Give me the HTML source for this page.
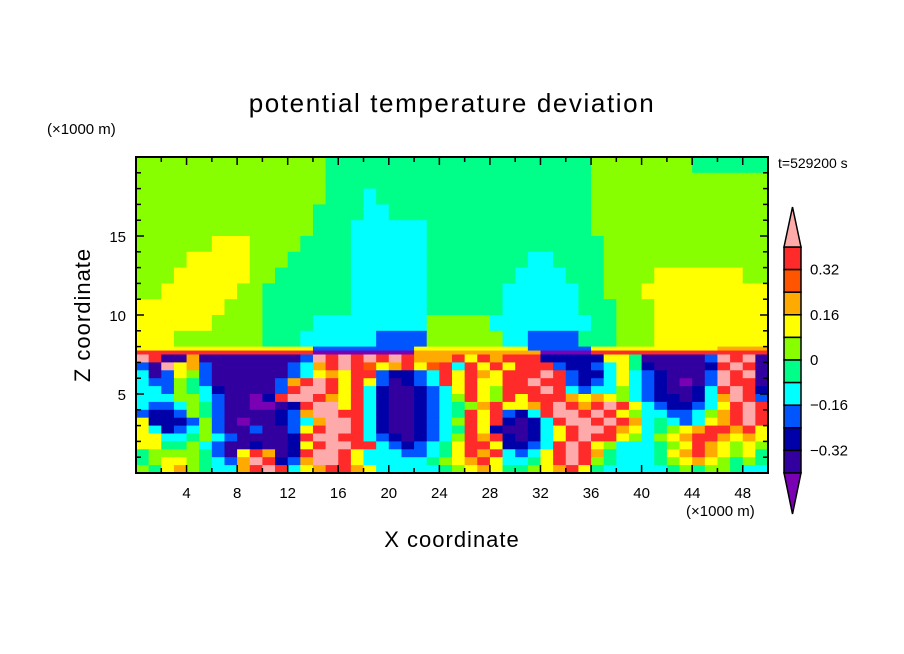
<!DOCTYPE html>
<html><head><meta charset="utf-8"><style>
body{margin:0;background:#fff;width:904px;height:654px;overflow:hidden}
svg{display:block}
text{font-family:"Liberation Sans",sans-serif;fill:#000}
</style></head><body>
<svg id="c" width="904" height="654" xmlns="http://www.w3.org/2000/svg">
<g id="field"></g>
<g id="axes"></g>
<g id="cbar"></g>
<text x="452" y="112" text-anchor="middle" font-size="26" letter-spacing="1.6">potential temperature deviation</text>
<text x="47" y="134" font-size="15">(×1000 m)</text>
<text x="686" y="516" font-size="15">(×1000 m)</text>
<text x="778" y="168" font-size="14">t=529200 s</text>
<text x="452" y="547" text-anchor="middle" font-size="22" letter-spacing="1">X coordinate</text>
<text transform="translate(90,315) rotate(-90)" text-anchor="middle" font-size="22" letter-spacing="1">Z coordinate</text>
</svg>
<script>
const colors = {P:"#7a00b4",I:"#3300a0",N:"#0000a8",B:"#0055ff",C:"#00ffff",G:"#00ff88",L:"#88ff00",Y:"#ffff00",O:"#ffaa00",R:"#ff5500",D:"#ff2a2a",K:"#ffaaaa"};
const levelKeys = ["P","I","N","B","C","G","L","Y","O","R","D","K"];
const levelLabels = ["0.32","0.16","0","−0.16","−0.32"];
const levelLabelValues = [0.32,0.16,0,-0.16,-0.32];
const xTicks = [4,8,12,16,20,24,28,32,36,40,44,48];
const yTicks = [5,10,15];
const zTopEdges = [20,19,18,17,16,15,14,13,12,11,10,9,8,7.75,7.5,7,6.5,6,5.5,5,4.5,4,3.5,3,2.5,2,1.5,1,0.5];
const zBotEdges = [19,18,17,16,15,14,13,12,11,10,9,8,7.75,7.5,7,6.5,6,5.5,5,4.5,4,3.5,3,2.5,2,1.5,1,0.5,0];
const rows = [
"LLLLLLLLLLLLLLLGGGGGGGGGGGGGGGGGGGGGLLLLLLLLGGGGGG",
"LLLLLLLLLLLLLLLGGGGGGGGGGGGGGGGGGGGGLLLLLLLLLLLLLL",
"LLLLLLLLLLLLLLLGGGCGGGGGGGGGGGGGGGGGLLLLLLLLLLLLLL",
"LLLLLLLLLLLLLLGGGGCCGGGGGGGGGGGGGGGGLLLLLLLLLLLLLL",
"LLLLLLLLLLLLLLGGGCCCCCCGGGGGGGGGGGGGLLLLLLLLLLLLLL",
"LLLLLLYYYLLLLGGGGCCCCCCGGGGGGGGGGGGGGLLLLLLLLLLLLL",
"LLLLYYYYYLLLGGGGGCCCCCCGGGGGGGGCCGGGGLLLLLLLLLLLLL",
"LLLYYYYYYLLGGGGGGCCCCCCGGGGGGGCCCCGGGLLLLYYYYYYYLL",
"LLYYYYYYLLGGGGGGGCCCCCCGGGGGGCCCCCCGGLLLYYYYYYYYYY",
"YYYYYYYLLLGGGGGGGCCCCCCGGGGGGCCCCCCGGGLLLYYYYYYYYY",
"YYYYYYLLLLGGGGCCCCCCCCCLLLLLCCCCCCCCGGLLLYYYYYYYYY",
"YYYLLLLLLLGGGCCCCCCBBBBLLLLLLCCBBBBGGGLLLYYYYYYYYY",
"YYYYYYYYYYYYYYBBBBBBBBYYYYYYYYYBBBBBYYYYYYYYYYOOOO",
"DDDDDDDDDDDDDDPPPPPPPPOOOOOOOOOOPPPPDDDDDDDDDDDDDD",
"KDIIOIIIIIIIIBKDKDKDKDOOODYDODDDNNNNNYYGIIIIIBKDKI",
"BIKYOBIIIIIIBCODKDRYODYRDCDYDYDDDBNNBCYGNIIIINDKDI",
"CIBYLBIIIIIIBCYOYDDBNNBCDYDOYDDDKDBNNCYCBNIIIBKDKI",
"CBBLGBIIIIIBODKDYDYBINBCDYDYYDDKDDBNBCYCBNIPIBKDDI",
"CCBLGCNIIIIBDKKDYDCNIINBCYDYLDDDKDCBCCLCBNIINCDKDN",
"CCCLLCBIIPNDKKDOYDCNIINBCLDYLDYDDDOYOYLCBNNINCOKDB",
"CBBCLGBIIPPINDKKYDCNIINBCGLODYYODKDODKDYCBNNBCYDKD",
"BNNBLGBIIIINBOKKDDCNIINBCGDYDBNCDKKDKDYLCCBBCLODKD",
"YNNNBLBIPIINBCOKKDCNIINBCLDYDNINCDKKDKDOCGCBCYODKD",
"YCNBCLBIIBIIBYDKKDCNIINBCGDYNIINCYDKKDOYCGLYODDODY",
"YYCCGLCBIIIINDKKDDCBNINBCLDODNINCYDKDDYLCLYODDOYOY",
"YYGGLCBIINIINYDKKDDCBNBCGYDDYNNBCDKDYLCCCGLYDOYLYL",
"GLLLLGBIYDOINDKKDYCCCBBCGYDODCBCYDKDOGCCCGYODOYLYG",
"GLYYLGCBOKDNBOKKDYCCCCCGLYODYCCGYDKDLGCCCGLYOYLGLG",
"LGYOLGCCODKDCYODDOYCCCCCGLYOYGGLYODYGCCCCCGLGLLGCC"
];
const NS="http://www.w3.org/2000/svg";
const X0=136,X1=768,Y0=473,Y1=157;
const xs=v=>X0+(v/50)*(X1-X0);
const ys=v=>Y0-(v/20)*(Y0-Y1);
const field=document.getElementById('field');
rows.forEach((row,r)=>{
  for(let i=0;i<row.length;i++){
    let j=i; while(j+1<row.length&&row[j+1]===row[i]) j++;
    const rc=document.createElementNS(NS,'rect');
    
    
    const x0=xs(i),x1=xs(j+1),y0=ys(zTopEdges[r]),y1=ys(zBotEdges[r]);
    rc.setAttribute('x',x0);rc.setAttribute('y',y0);
    rc.setAttribute('width',x1-x0+0.6);rc.setAttribute('height',y1-y0+0.6);
    rc.setAttribute('fill',colors[row[i]]);
    field.appendChild(rc);
    i=j;
  }
});
const axes=document.getElementById('axes');
function line(x1,y1,x2,y2,w,name){const l=document.createElementNS(NS,'line');


l.setAttribute('x1',x1);l.setAttribute('y1',y1);l.setAttribute('x2',x2);l.setAttribute('y2',y2);l.setAttribute('stroke','#000');l.setAttribute('stroke-width',w);axes.appendChild(l);}
function txt(g,x,y,s,anchor,size,name){const t=document.createElementNS(NS,'text');


t.setAttribute('x',x);t.setAttribute('y',y);t.setAttribute('text-anchor',anchor);t.setAttribute('font-size',size);t.textContent=s;g.appendChild(t);}
const fr=document.createElementNS(NS,'rect');


fr.setAttribute('x',X0);fr.setAttribute('y',Y1);fr.setAttribute('width',X1-X0);fr.setAttribute('height',Y0-Y1);fr.setAttribute('fill','none');fr.setAttribute('stroke','#000');fr.setAttribute('stroke-width','2');axes.appendChild(fr);
for(let v=2;v<50;v+=2){const L=(v%4===0)?8:5;line(xs(v),Y0,xs(v),Y0-L,1.5,'x-tick');line(xs(v),Y1,xs(v),Y1+L,1.5,'x-tick-top');}
for(let v=1;v<20;v++){const L=(v%5===0)?8:5;line(X0,ys(v),X0+L,ys(v),1.5,'y-tick');line(X1,ys(v),X1-L,ys(v),1.5,'y-tick-right');}
xTicks.forEach(v=>txt(axes,xs(v),498,String(v),'middle',15,'x-tick-label'));
yTicks.forEach(v=>txt(axes,126,ys(v)+6,String(v),'end',15,'y-tick-label'));
const cb=document.getElementById('cbar');
const CX=784,CW=17,CT=247,CB=473;
const boxKeys=levelKeys.slice(1,11).reverse();
const bh=(CB-CT)/boxKeys.length;
boxKeys.forEach((k,i)=>{const r=document.createElementNS(NS,'rect');


r.setAttribute('x',CX);r.setAttribute('y',CT+i*bh);r.setAttribute('width',CW);r.setAttribute('height',bh);r.setAttribute('fill',colors[k]);r.setAttribute('stroke','#000');r.setAttribute('stroke-width','1.5');cb.appendChild(r);});
const t1=document.createElementNS(NS,'polygon');


t1.setAttribute('points',`${CX},${CT} ${CX+CW/2},207 ${CX+CW},${CT}`);t1.setAttribute('fill',colors.K);t1.setAttribute('stroke','#000');t1.setAttribute('stroke-width','1.5');cb.appendChild(t1);
const t2=document.createElementNS(NS,'polygon');


t2.setAttribute('points',`${CX},${CB} ${CX+CW/2},514 ${CX+CW},${CB}`);t2.setAttribute('fill',colors.P);t2.setAttribute('stroke','#000');t2.setAttribute('stroke-width','1.5');cb.appendChild(t2);
levelLabelValues.forEach((v,i)=>{const y=CT+(0.4-v)/0.08*bh;txt(cb,810,y+5,levelLabels[i],'start',15,'colorbar-label');});
</script>
</body></html>
